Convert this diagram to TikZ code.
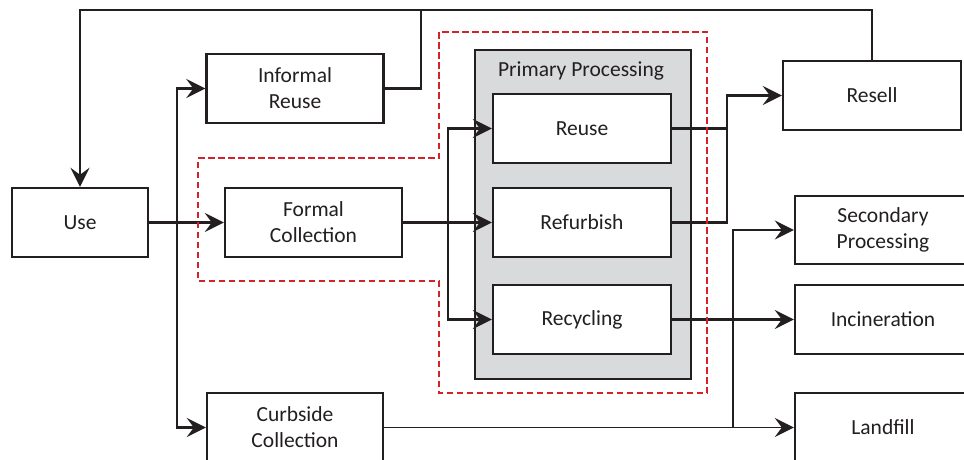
\documentclass[tikz,border=0pt]{standalone}
\usepackage{fontspec}
\setmainfont{Carlito}
\usetikzlibrary{arrows.meta}
\definecolor{ink}{HTML}{231F20}
\definecolor{panel}{HTML}{D9DADC}
\definecolor{scope}{HTML}{D2232A}
\tikzset{
  box/.style={draw=ink, line width=2.4pt, fill=white, align=center, inner sep=0pt,
    text=ink, font=\fontsize{21.5}{26}\selectfont},
  link/.style={draw=ink, line width=2.3pt},
  thicklink/.style={draw=ink, line width=2.8pt},
  thinlink/.style={draw=ink, line width=1.8pt},
  arr/.style={-{Stealth[length=19pt, width=19pt, inset=7pt]}},
}
\begin{document}
\begin{tikzpicture}[x=1pt, y=-1pt]
\useasboundingbox (0,0) rectangle (964,460);
\clip (0,0) rectangle (964,460);
\fill[white] (0,0) rectangle (964,460);

% grey panel holding the primary processing steps
\filldraw[fill=panel, draw=ink, line width=2.4pt] (475,50) rectangle (691,379);
\node[text=ink, font=\fontsize{21.5}{26}\selectfont] (pptitle) at (581,71) {Primary Processing};

% process boxes
\node[box, minimum width=136pt, minimum height=69pt] (use) at (80,222.5) {Use};
\node[box, minimum width=177pt, minimum height=69pt] (informal) at (295,88.5) {Informal\\Reuse};
\node[box, minimum width=177pt, minimum height=69pt] (formal) at (313.5,222.5) {Formal\\Collection};
\node[box, minimum width=176pt, minimum height=69pt] (curbside) at (295,427.5) {Curbside\\Collection};
\node[box, minimum width=178pt, minimum height=69pt] (reuse) at (582,128.5) {Reuse};
\node[box, minimum width=178pt, minimum height=69pt] (refurbish) at (582,222.5) {Refurbish};
\node[box, minimum width=178pt, minimum height=69pt] (recycling) at (582,319.5) {Recycling};
\node[box, minimum width=178pt, minimum height=69pt] (resell) at (872,95.5) {Resell};
\node[box, minimum width=176pt, minimum height=68pt] (secondary) at (883,230) {Secondary\\Processing};
\node[box, minimum width=176pt, minimum height=69pt] (incineration) at (883,319.5) {Incineration};
\node[box, minimum width=176pt, minimum height=69pt] (landfill) at (883,427.5) {Landfill};

% routing points
\coordinate (loopA) at (421,10);
\coordinate (topleft) at (80,10);
\coordinate (splitA) at (177,222.5);
\coordinate (splitB) at (448,222.5);
\coordinate (mergeC) at (727,95.5);
\coordinate (splitD) at (733,427.5);

% feedback loop back to use
\draw[link] (informal.east) -| (loopA);
\draw[link, arr] (resell.north) |- (topleft) -- (use.north);

% collection routes
\draw[thicklink, arr] (use.east) -- (formal.west);
\draw[link, arr] (splitA) |- (informal.west);
\draw[link, arr] (splitA) |- (curbside.west);

% into primary processing
\draw[thicklink, arr] (formal.east) -- (refurbish.west);
\draw[link, arr] (splitB) |- (reuse.west);
\draw[link, arr] (splitB) |- (recycling.west);

% out of primary processing
\draw[link] (reuse.east) -- (reuse.east -| mergeC);
\draw[link, arr] (refurbish.east) -| (mergeC) -- (resell.west);
\draw[thicklink, arr] (recycling.east) -- (incineration.west);

% curbside outputs
\draw[thinlink, arr] (curbside.east) -- (landfill.west);
\draw[thinlink, arr] (splitD) |- (secondary.west);

% system boundary
\draw[scope, line width=2pt, dash pattern=on 6.5pt off 3.5pt]
  (198,158) -- (439,158) -- (439,32) -- (707,32) -- (707,393)
  -- (439,393) -- (439,281) -- (198,281) -- cycle;
\end{tikzpicture}
\end{document}
